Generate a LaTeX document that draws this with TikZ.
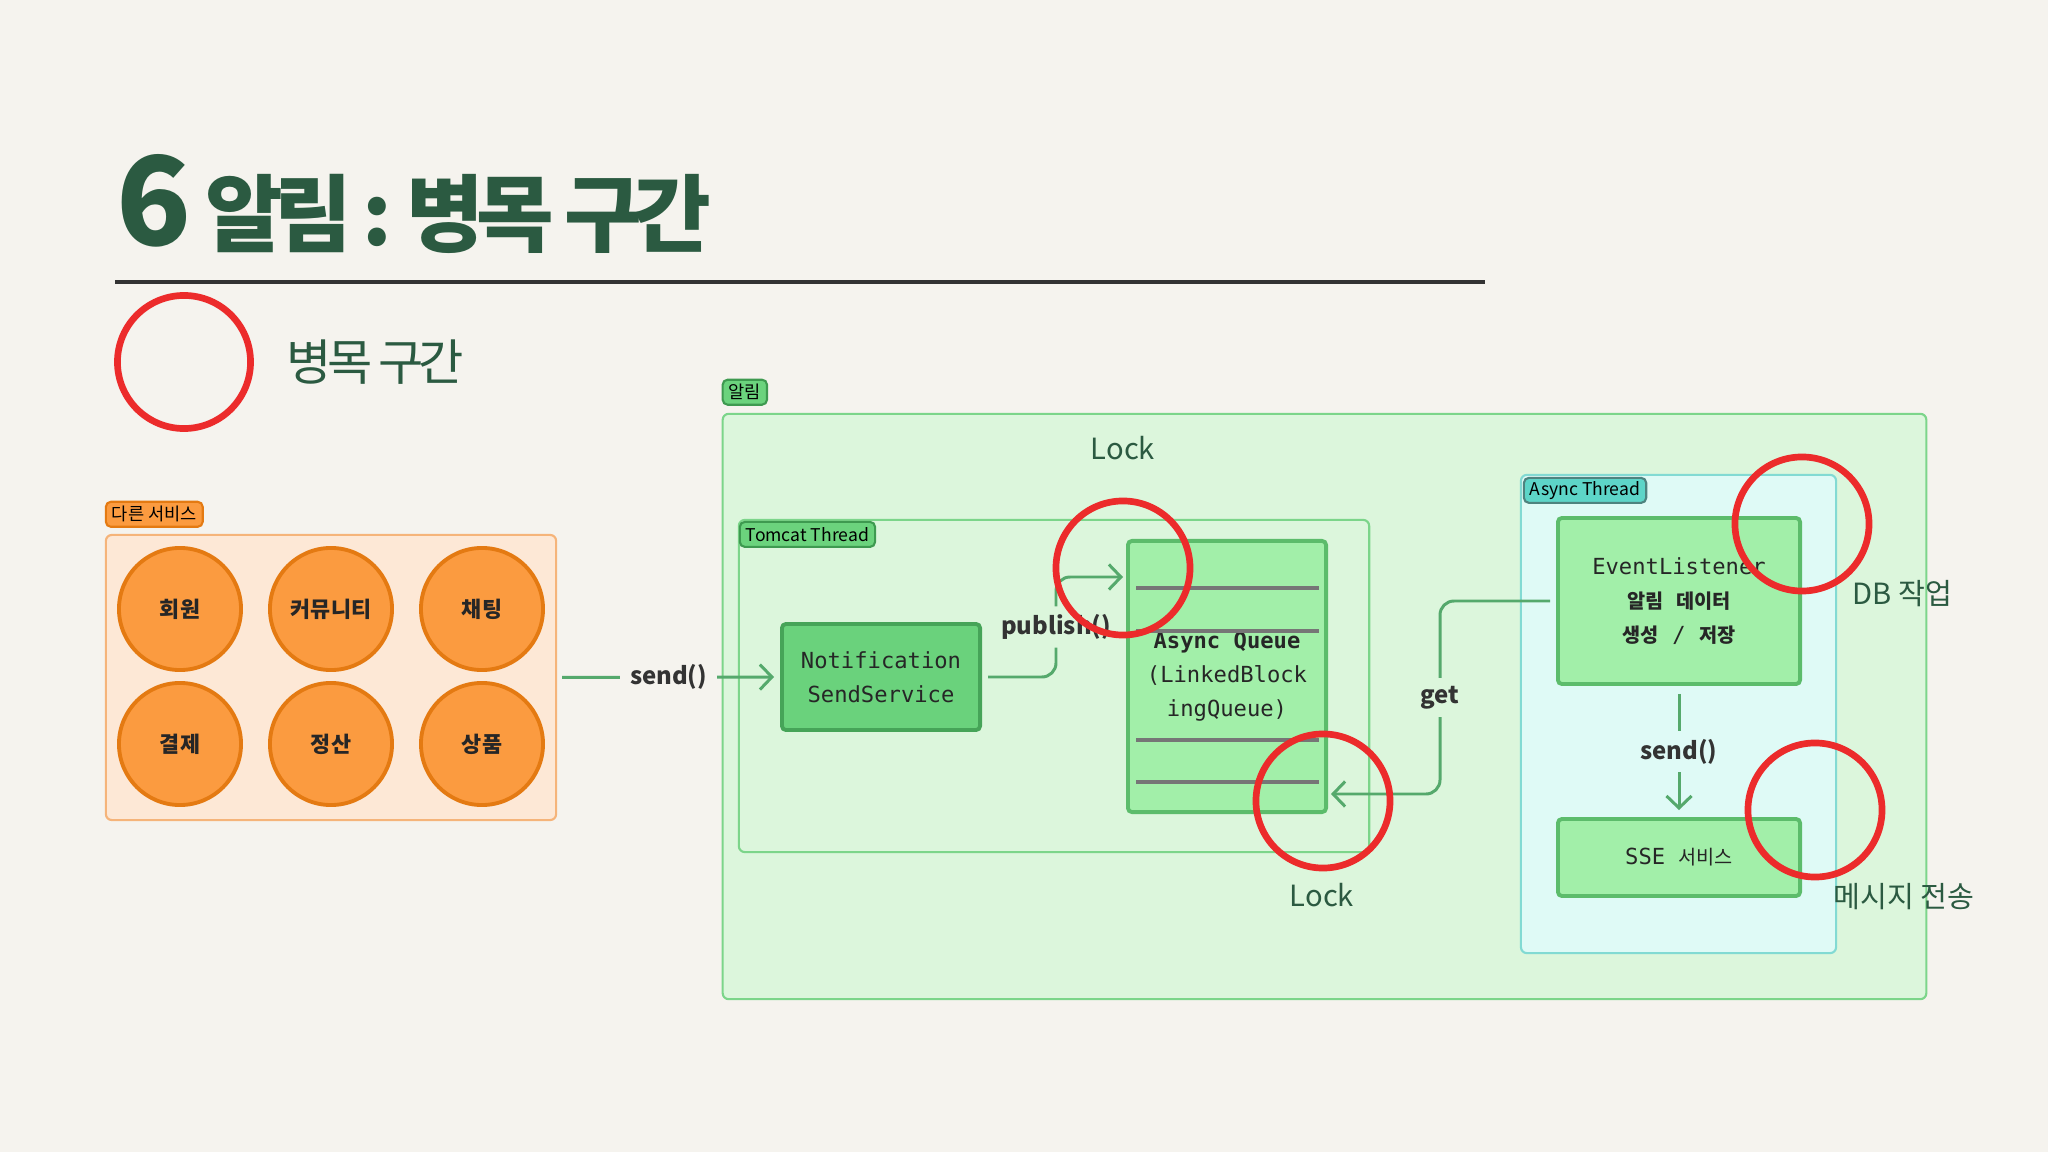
\documentclass[tikz,border=0pt]{standalone}
\usepackage{fontspec}
\setmainfont{Noto Sans CJK KR}
\setmonofont{DejaVu Sans Mono}
\newfontfamily\krblack{Noto Sans CJK KR Black}
\usetikzlibrary{positioning,arrows.meta}

\definecolor{pagebg}{HTML}{F5F3EE}
\definecolor{ink}{HTML}{2B5A41}
\definecolor{ringred}{HTML}{EC2B2B}
\definecolor{svcfill}{HTML}{FB9B40}
\definecolor{svcdraw}{HTML}{E47A12}
\definecolor{svcbg}{HTML}{FDE8D6}
\definecolor{svcline}{HTML}{F5B47A}
\definecolor{alarmbg}{HTML}{DCF6DC}
\definecolor{alarmline}{HTML}{7CD58A}
\definecolor{tagfill}{HTML}{6BD37D}
\definecolor{tagline}{HTML}{3E9A50}
\definecolor{nssfill}{HTML}{6AD27C}
\definecolor{nssline}{HTML}{46A458}
\definecolor{boxfill}{HTML}{A2EFA9}
\definecolor{boxline}{HTML}{5CBC6B}
\definecolor{asyncbg}{HTML}{DFFAF6}
\definecolor{asyncline}{HTML}{82DAD3}
\definecolor{asynctag}{HTML}{5DD5C8}
\definecolor{flowgreen}{HTML}{55A96C}
\definecolor{slotgray}{HTML}{767676}

\newcommand\hg[1]{{\rmfamily\bfseries\fontsize{5.6}{9.7}\selectfont #1}}
\newcommand\hgl[1]{{\rmfamily\fontsize{5.6}{9.7}\selectfont #1}}

\begin{document}
\begin{tikzpicture}[x=0.01cm,y=-0.01cm,
    ring/.style={draw=ringred,line width=1.9pt},
    svc node/.style={circle,draw=svcdraw,line width=1.1pt,fill=svcfill,minimum size=1.22cm,inner sep=0pt,text=black!85,font=\bfseries\fontsize{6.2}{7}\selectfont},
    group box/.style={line width=0.6pt,rounded corners=0.06cm,inner sep=0pt},
    tag/.style={line width=0.6pt,rounded corners=0.05cm,inner xsep=0.06cm,inner ysep=0pt,minimum height=0.25cm,text=black,font=\fontsize{5}{6}\selectfont},
    code box/.style={draw=boxline,fill=boxfill,line width=1.1pt,rounded corners=0.04cm,inner sep=0pt,align=center,text=black!85,font=\ttfamily\fontsize{6.3}{9.7}\selectfont},
    flow/.style={draw=flowgreen,line width=0.85pt,-{Straight Barb[length=0.12cm,width=0.25cm]}},
    lbl/.style={inner xsep=0.1cm,inner ysep=0.08cm,text=black!80,font=\bfseries\fontsize{6.8}{8}\selectfont},
    note/.style={inner sep=0pt,text=ink,font=\fontsize{8.3}{10}\selectfont}]

    \fill[pagebg] (0,0) rectangle (2048,1152);
    \useasboundingbox (0,0) rectangle (2048,1152);

    % heading
    \node[anchor=base west,inner sep=0,text=ink,font=\krblack\fontsize{35}{40}\selectfont] (num) at (116,246) {6};
    \node[anchor=base west,inner sep=0,text=ink,font=\krblack\addfontfeature{LetterSpace=-10}\fontsize{24}{28}\selectfont] (title) at ([xshift=0.12cm]num.base east) {알림 : 병목 구간};
    \draw[black!80,line width=0.9pt] (115,282) -- (1485,282);

    % legend
    \node[ring,circle,minimum size=1.33cm,inner sep=0] (legend) at (184,362) {};
    \node[right=0.32cm of legend,inner sep=0,text=ink,font=\addfontfeature{LetterSpace=-10}\fontsize{14}{16}\selectfont] (legendtxt) {병목 구간};

    % other services
    \node[group box,draw=svcline,fill=svcbg,minimum width=4.5cm,minimum height=2.85cm] (svcbox) at (331,677.5) {};
    \node[tag,draw=svcdraw,fill=svcfill,above right=0.06cm and 0cm of svcbox.north west] (svctag) {다른 서비스};
    \foreach \lab [count=\i from 0] in {회원,커뮤니티,채팅,결제,정산,상품}{
        \pgfmathtruncatemacro\col{mod(\i,3)}
        \pgfmathtruncatemacro\row{\i/3}
        \node[svc node] (svc\i) at (180+151*\col,609+135*\row) {\lab};
    }

    % notification
    \node[group box,draw=alarmline,fill=alarmbg,minimum width=12.03cm,minimum height=5.85cm] (alarm) at (1324.5,706.5) {};
    \node[tag,draw=tagline,fill=tagfill,above right=0.07cm and 0cm of alarm.north west] (alarmtag) {알림};
    \node[note] (lock1) at (1123,448) {Lock};

    \node[group box,draw=alarmline,fill=alarmbg,minimum width=6.3cm,minimum height=3.32cm] (tomcat) at (1054,686) {};
    \node[tag,draw=tagline,fill=tagfill,below right=0.02cm and 0.01cm of tomcat.north west] (tomcattag) {Tomcat Thread};

    \node[code box,draw=nssline,fill=nssfill,minimum width=1.98cm,minimum height=1.06cm] (nss) at (881,677) {Notification\\SendService};

    \node[code box,minimum width=1.98cm,minimum height=2.71cm] (queue) at (1227,676.5) {\textbf{Async Queue}\\(LinkedBlock\\ingQueue)};
    \foreach \y in {588,631,740,782}
        \draw[slotgray,line width=1pt] (1136,\y) -- (1319,\y);

    \node[group box,draw=asyncline,fill=asyncbg,minimum width=3.15cm,minimum height=4.78cm] (async) at (1678.5,714) {};
    \node[tag,draw=asyncline!60!black,fill=asynctag,below right=0.03cm and 0.03cm of async.north west] (asynctag) {Async Thread};

    \node[code box,minimum width=2.42cm,minimum height=1.66cm] (el) at (1679,601) {EventListener\\\hg{알림} \hg{데이터}\\\hg{생성} / \hg{저장}};
    \node[code box,minimum width=2.42cm,minimum height=0.77cm] (sse) at (1679,857.5) {SSE \hgl{서비스}};

    \node[note] (lock2) at (1322,895) {Lock};
    \node[note,anchor=west] (dbnote) at (1852,594) {DB 작업};
    \node[note,anchor=west] (msgnote) at (1833,897) {메시지 전송};

    % connectors
    \coordinate (qin) at (1123,577);
    \coordinate (qout) at (1331,794);
    \draw[flow,shorten <=0.05cm,shorten >=0.06cm] (svcbox.east) -- node[lbl,fill=pagebg] {send()} (nss.west);
    \draw[flow,rounded corners=0.14cm,shorten <=0.06cm] (nss.east) -- ++(74,0) |- node[pos=0.25,lbl,fill=alarmbg] {publish()} (qin);
    \draw[flow,rounded corners=0.14cm,shorten <=0.06cm] (el.west) -- ++(-116,0) |- node[pos=0.25,lbl,fill=alarmbg] {get} (qout);
    \draw[flow,shorten <=0.08cm,shorten >=0.07cm] (el.south) -- node[lbl,fill=asyncbg] {send()} (sse.north);

    % bottlenecks
    \draw[ring] (1123,568) circle[radius=0.67cm];
    \draw[ring] (1323,801) circle[radius=0.67cm];
    \draw[ring] (1802,524) circle[radius=0.67cm];
    \draw[ring] (1815,810) circle[radius=0.67cm];
\end{tikzpicture}
\end{document}
